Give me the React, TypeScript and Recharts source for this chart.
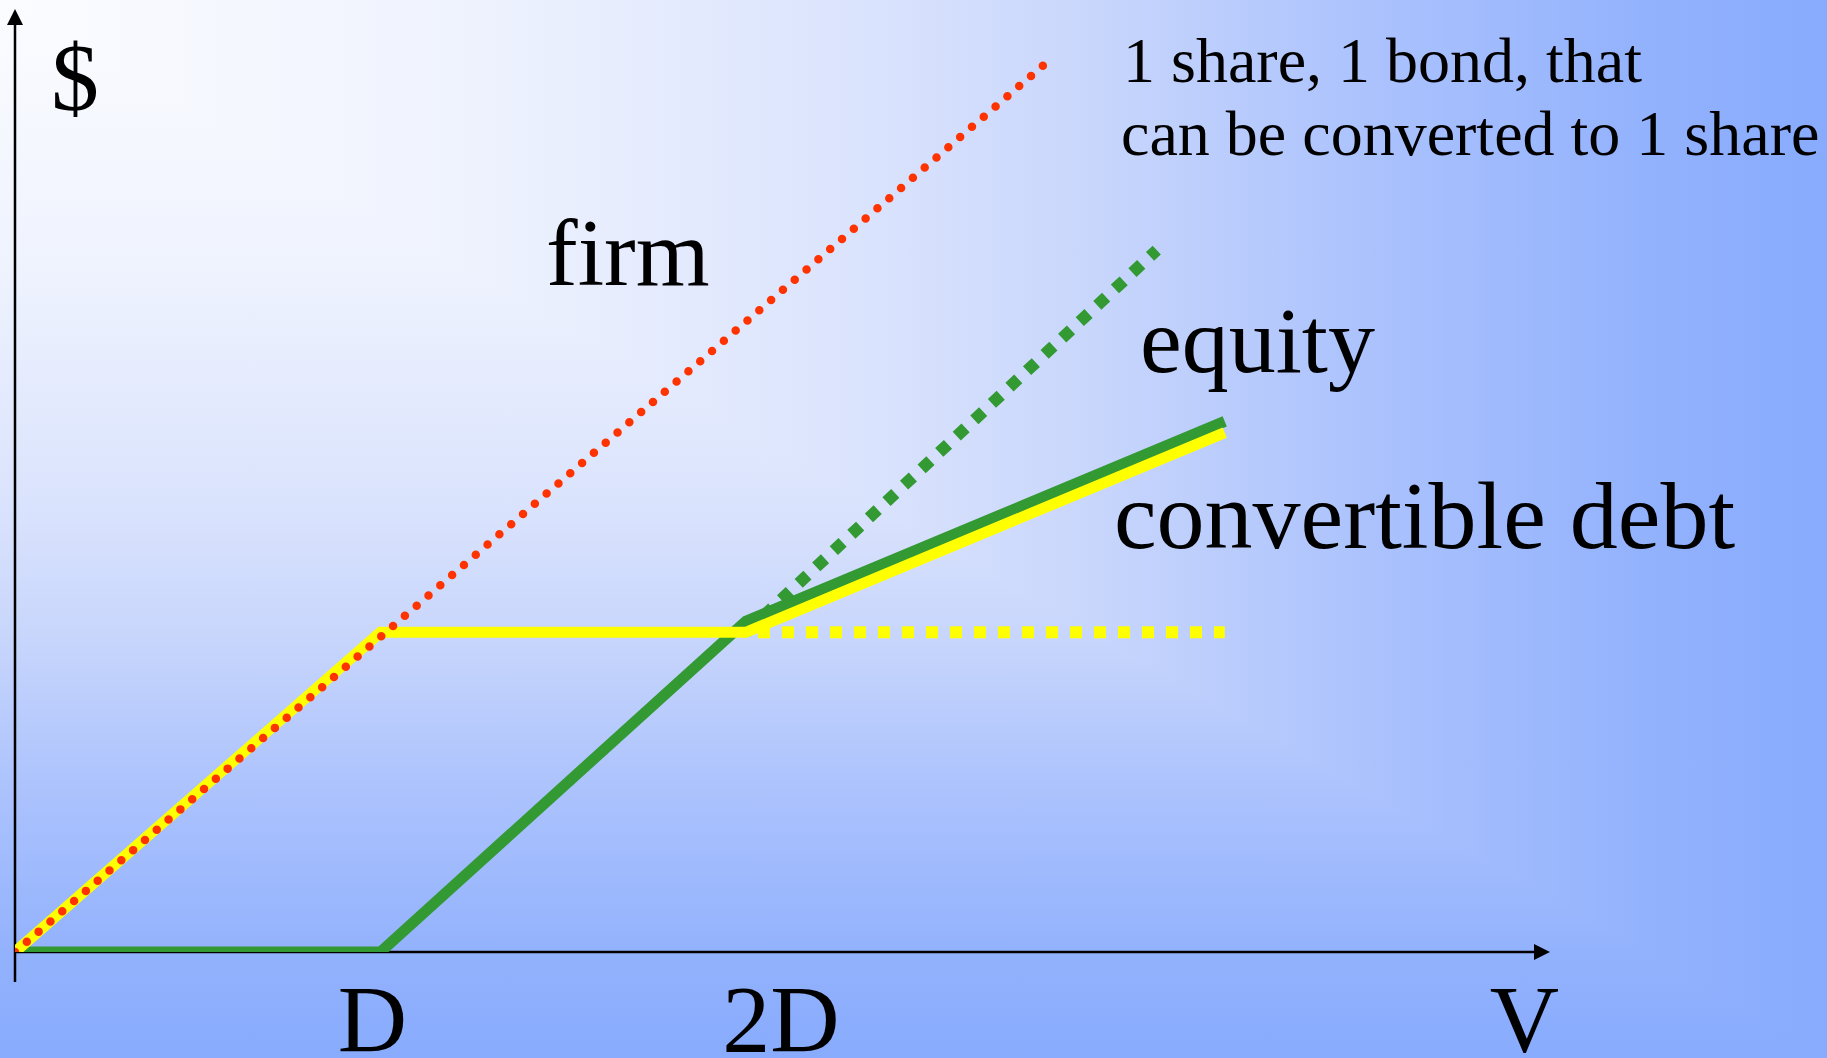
import React from "react";
import { LineChart, Line, XAxis, YAxis, ReferenceLine } from "recharts";

// V on the x axis, $ on the y axis, both in units of D (face value of debt)
const xTicks = [1, 2, 4.13];
const xTickLabels = ["D", "2D", "V"];

const firmPts = [
  { x: 0, y: 0 },
  { x: 2.83, y: 2.79 },
];
const equityPts = [
  { x: 0, y: 0 },
  { x: 1.0, y: 0 },
  { x: 2.0, y: 1.035 },
  { x: 3.31, y: 1.66 },
];
const equityNoConvPts = [
  { x: 2.0, y: 1.0 },
  { x: 3.124, y: 2.196 },
];
const convDebtPts = [
  { x: 0, y: 0 },
  { x: 1.0, y: 1.0 },
  { x: 2.0, y: 1.0 },
  { x: 3.31, y: 1.625 },
];
const straightDebtPts = [
  { x: 2.0, y: 1.0 },
  { x: 3.31, y: 1.0 },
];

const xMax = 4.2;
const yMax = 2.95;

const SERIF = '"Liberation Serif", "Times New Roman", serif';
const GREEN = "#339933";
const YELLOW = "#ffff00";
const RED = "#ff3300";

const BG_STOPS =
  "#fbfcff 0%, #eff3fe 25%, #dae3fd 48%, #c8d6fc 60%, #abc2fd 75%, #93b2fd 90%, #88abfd 100%";

// axis line with an arrow head at its end point
const arrowLine = (p: any) => {
  const { x1, y1, x2, y2 } = p;
  const dx = x2 - x1;
  const dy = y2 - y1;
  const len = Math.sqrt(dx * dx + dy * dy) || 1;
  const ux = dx / len;
  const uy = dy / len;
  const head = 16;
  const half = 8;
  const bx = x2 - ux * head;
  const by = y2 - uy * head;
  return (
    <g>
      <line x1={x1} y1={y1} x2={bx} y2={by} stroke="#000" strokeWidth={2.5} />
      <polygon
        points={`${x2},${y2} ${bx - uy * half},${by + ux * half} ${bx + uy * half},${by - ux * half}`}
        fill="#000"
      />
    </g>
  );
};

const tickShift: Record<string, number> = { D: -8, "2D": 35, V: 0 };

const renderTick = (props: any) => {
  const { x, y, index } = props;
  const label = xTickLabels[index];
  return (
    <text
      x={x + (tickShift[label] || 0)}
      y={y + 100}
      textAnchor="middle"
      fontFamily={SERIF}
      fontSize={96}
      fill="#000"
    >
      {label}
    </text>
  );
};

export default function App() {
  return (
    <div
      style={{
        position: "absolute",
        left: 0,
        top: 0,
        width: 1827,
        height: 1058,
        overflow: "hidden",
      }}
    >
      <div
        style={{
          position: "absolute",
          inset: 0,
          background: `linear-gradient(to right, ${BG_STOPS})`,
        }}
      />
      <div
        style={{
          position: "absolute",
          inset: 0,
          clipPath: "polygon(0 0, 100% 100%, 0 100%)",
          background: `linear-gradient(to bottom, ${BG_STOPS})`,
        }}
      />
      <div style={{ position: "absolute", left: 0, top: 0 }}>
        <LineChart
          width={1827}
          height={1058}
          margin={{ top: 9, right: 277, bottom: 0, left: 15 }}
        >
          <XAxis
            type="number"
            dataKey="x"
            domain={[0, xMax]}
            ticks={xTicks}
            interval={0}
            allowDataOverflow
            axisLine={false}
            tickLine={false}
            tickSize={0}
            tickMargin={0}
            height={106}
            tick={renderTick}
          />
          <YAxis type="number" dataKey="y" domain={[0, yMax]} allowDataOverflow hide />

          <ReferenceLine y={0} ifOverflow="visible" shape={arrowLine} />
          <ReferenceLine
            segment={[
              { x: 0, y: -0.094 },
              { x: 0, y: yMax },
            ]}
            ifOverflow="visible"
            shape={arrowLine}
          />

          <Line
            data={equityPts}
            dataKey="y"
            type="linear"
            stroke={GREEN}
            strokeWidth={11}
            dot={false}
            activeDot={false}
            isAnimationActive={false}
          />
          <Line
            data={equityNoConvPts}
            dataKey="y"
            type="linear"
            stroke={GREEN}
            strokeWidth={12}
            strokeDasharray="12 12"
            dot={false}
            activeDot={false}
            isAnimationActive={false}
          />
          <Line
            data={convDebtPts}
            dataKey="y"
            type="linear"
            stroke={YELLOW}
            strokeWidth={11}
            dot={false}
            activeDot={false}
            isAnimationActive={false}
          />
          <Line
            data={straightDebtPts}
            dataKey="y"
            type="linear"
            stroke={YELLOW}
            strokeWidth={12}
            strokeDasharray="0 12 12 0"
            dot={false}
            activeDot={false}
            isAnimationActive={false}
          />
          <Line
            data={firmPts}
            dataKey="y"
            type="linear"
            stroke={RED}
            strokeWidth={8.5}
            strokeLinecap="round"
            strokeDasharray="0 15.6"
            dot={false}
            activeDot={false}
            isAnimationActive={false}
          />
        </LineChart>
      </div>
      <svg
        width={1827}
        height={1058}
        style={{ position: "absolute", left: 0, top: 0, pointerEvents: "none" }}
        fontFamily={SERIF}
        fill="#000"
      >
        <text x={75} y={110} fontSize={96} textAnchor="middle">$</text>
        <text x={546} y={285} fontSize={95}>firm</text>
        <text x={1140} y={372} fontSize={94}>equity</text>
        <text x={1114} y={548} fontSize={96}>convertible debt</text>
        <text x={1123} y={82} fontSize={64}>1 share, 1 bond, that</text>
        <text x={1121} y={155} fontSize={64}>can be converted to 1 share</text>
      </svg>
    </div>
  );
}
